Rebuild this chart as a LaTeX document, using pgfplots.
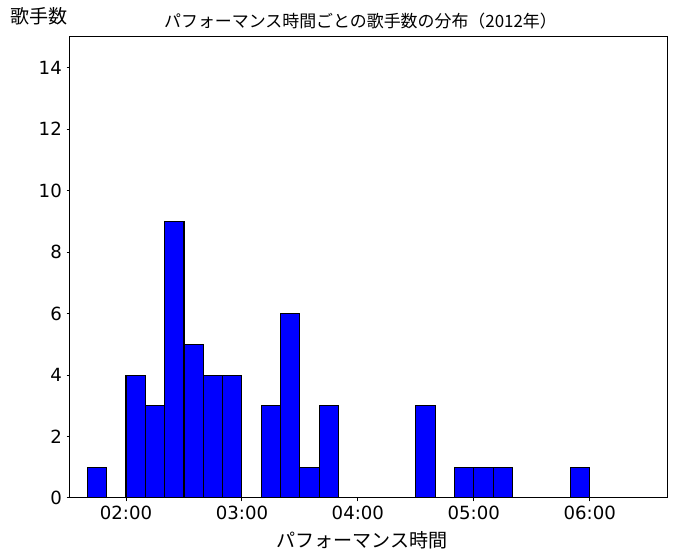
\documentclass[border=0pt]{standalone}
\usepackage{fontspec}
\setmainfont{Noto Sans CJK JP}
\newfontfamily\tickfont{DejaVu Sans}
\usepackage{pgfplots}
\pgfplotsset{compat=1.18}
\usepackage{pgfplotstable}

% counts per 10 s bin, left edge in seconds
\pgfplotstableread{
edge count
100 1
110 0
120 4
130 3
140 9
150 5
160 4
170 4
180 0
190 3
200 6
210 1
220 3
230 0
240 0
250 0
260 0
270 3
280 0
290 1
300 1
310 1
320 0
330 0
340 0
350 1
360 0
370 0
380 0
390 0
}\hist

\begin{document}
\begin{tikzpicture}
\path[use as bounding box] (-52.5pt,-46.5pt) rectangle (456pt,373.5pt);
\begin{axis}[
  at={(0,0)}, anchor=south west,
  scale only axis,
  width=447.75pt, height=345.75pt,
  xmin=91, xmax=400,
  ymin=0, ymax=15,
  xtick={120,180,240,300,360},
  xticklabels={02:00,03:00,04:00,05:00,06:00},
  ytick={0,2,4,6,8,10,12,14},
  tick align=outside,
  xtick pos=left, ytick pos=left,
  major tick length=2.6pt,
  axis line style={line width=0.75pt},
  every tick/.style={black, line width=0.75pt},
  tick label style={font=\tickfont\fontsize{13.6pt}{15pt}\selectfont},
  /pgf/number format/assume math mode=true,
  title={パフォーマンス時間ごとの歌手数の分布（2012年）},
  title style={font=\fontsize{12.7pt}{14pt}\selectfont, at={(rel axis cs:0.5,1)}, anchor=center, yshift=6pt, xshift=-6pt},
  xlabel={パフォーマンス時間},
  xlabel style={font=\fontsize{14.3pt}{16pt}\selectfont, at={(rel axis cs:0.5,0)}, anchor=center, yshift=-31.5pt, xshift=-5pt},
  ylabel={歌手数},
  ylabel style={font=\fontsize{14.3pt}{16pt}\selectfont, rotate=-90, at={(rel axis cs:0,1)}, anchor=center, xshift=-23.25pt, yshift=15.75pt},
]
\addplot[ybar interval, fill=blue, draw=black, line width=0.8pt] table[x=edge, y=count] {\hist};
\end{axis}
\end{tikzpicture}
\end{document}
